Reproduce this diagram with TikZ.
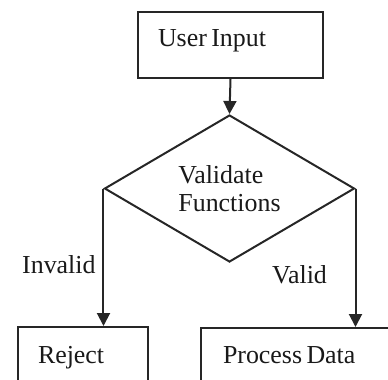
\documentclass[tikz,border=0pt]{standalone}
\usepackage{fontspec}
\setmainfont{Liberation Serif}
\usetikzlibrary{shapes.geometric,arrows.meta}
\begin{document}
\begin{tikzpicture}[x=1bp,y=-1bp,
  every node/.style={font=\fontsize{26}{28}\selectfont, text=black!90,
    execute at begin node={\spaceskip=0.17em\relax}},
  box/.style={draw=black!85, line width=2bp, rectangle, anchor=north west,
    align=left, inner ysep=0pt, text height=18bp, text depth=6bp},
  decision/.style={draw=black!85, line width=2bp, diamond, aspect=1.7,
    inner sep=0pt, minimum width=250bp, minimum height=147bp, align=left},
  flow/.style={draw=black!85, line width=2bp,
    -{Triangle[width=13bp,length=13bp]}},
  tag/.style={anchor=base west, inner sep=0pt}
]
\useasboundingbox (0,0) rectangle (388,380);
\clip (0,0) rectangle (388,380);

% process boxes
\node[box, minimum width=185bp, minimum height=66bp, inner xsep=20bp,
      text width=145bp, text depth=16bp] (ui) at (137,11) {User Input};
\node[box, minimum width=130bp, minimum height=60bp, inner xsep=20bp,
      text width=90bp] (rej) at (17,326) {Reject};
\node[box, minimum width=210bp, minimum height=58bp, inner xsep=22bp,
      text width=166bp] (pd) at (200,327) {Process Data};

% decision
\node[decision] (dec) at (229.5,188.5) {Validate\\Functions};

% connectors
\draw[flow] (ui.south) -- (dec.north);
\draw[flow] (dec.west) -- (dec.west |- rej.north);
\draw[flow] (dec.east) -- (dec.east |- pd.north);

% branch labels
\node[tag] (inv) at (22,273) {Invalid};
\node[tag] (val) at (272,283) {Valid};
\end{tikzpicture}
\end{document}
